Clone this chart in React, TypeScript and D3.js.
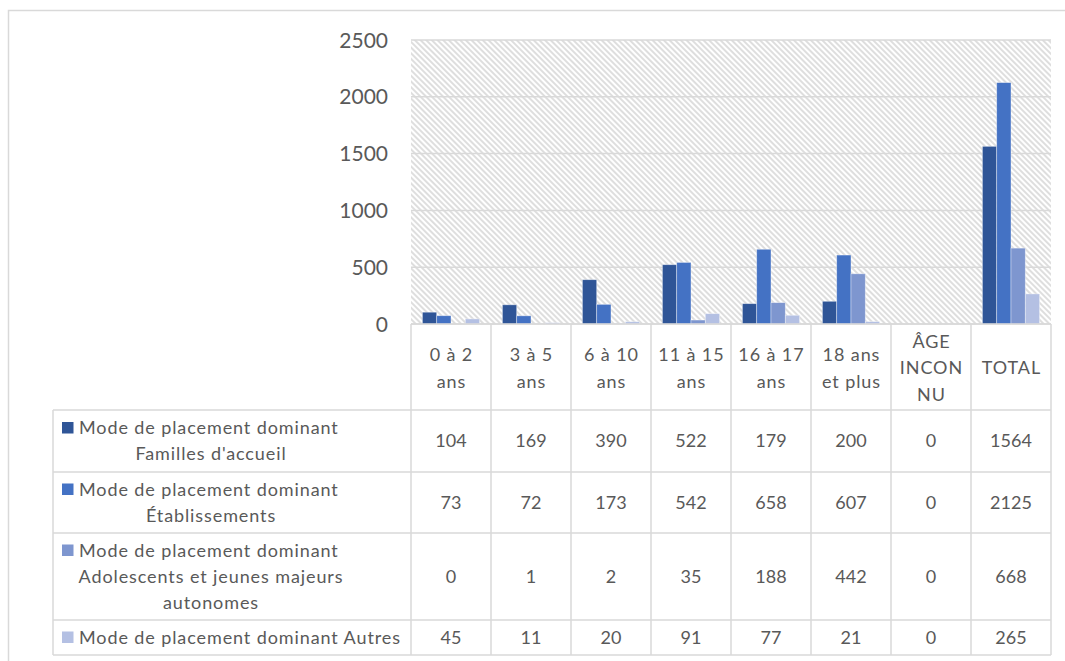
import React from "react";
import * as d3 from "d3";

const categories = ["0 à 2 ans", "3 à 5 ans", "6 à 10 ans", "11 à 15 ans", "16 à 17 ans", "18 ans et plus", "ÂGE INCONNU", "TOTAL"];
const categoryLines = [["0 à 2", "ans"], ["3 à 5", "ans"], ["6 à 10", "ans"], ["11 à 15", "ans"], ["16 à 17", "ans"], ["18 ans", "et plus"], ["ÂGE", "INCON", "NU"], ["TOTAL"]];
const seriesNames = [
  "Mode de placement dominant Familles d'accueil",
  "Mode de placement dominant Établissements",
  "Mode de placement dominant Adolescents et jeunes majeurs autonomes",
  "Mode de placement dominant Autres",
];
const seriesLines = [
  ["Mode de placement dominant", "Familles d'accueil"],
  ["Mode de placement dominant", "Établissements"],
  ["Mode de placement dominant", "Adolescents et jeunes majeurs", "autonomes"],
  ["Mode de placement dominant Autres"],
];
const famillesAccueil = [104, 169, 390, 522, 179, 200, 0, 1564];
const etablissements = [73, 72, 173, 542, 658, 607, 0, 2125];
const adolescents = [0, 1, 2, 35, 188, 442, 0, 668];
const autres = [45, 11, 20, 91, 77, 21, 0, 265];
const seriesValues = [famillesAccueil, etablissements, adolescents, autres];
const colors = ["#2F5597", "#4472C4", "#7E96CF", "#B4C0E3"];
const yTicks = [0, 500, 1000, 1500, 2000, 2500];

export default function App() {
  const W = 1065, H = 661;
  const plotL = 411, plotR = 1051, plotT = 40, plotB = 324;
  const headerB = 410;
  const rowBounds = [410, 472, 533, 620, 655];
  const legendL = 53;
  const font = "Lato, 'Noto Sans', sans-serif";
  const textColor = "#595959";
  const grid = "#d9d9d9";
  const ls = 0.9;

  const x = d3.scaleBand<string>().domain(categories).range([plotL, plotR]).paddingInner(0).paddingOuter(0);
  const bw = x.bandwidth();
  const groupW = bw * (57.2 / 80);
  const xs = d3.scaleBand<number>().domain(d3.range(seriesValues.length)).range([0, groupW]);
  const y = d3.scaleLinear().domain([0, 2500]).range([plotB, plotT]);

  return (
    <svg width={W} height={H} style={{ position: "absolute", left: 0, top: 0, background: "#fff" }} fontFamily={font}>
      <defs>
        <pattern id="hatch" width="4" height="4" patternUnits="userSpaceOnUse" patternTransform="rotate(-45)">
          <rect width="4" height="4" fill="#fff" />
          <line x1="1" y1="0" x2="1" y2="4" stroke="#d6d6d6" strokeWidth="1.6" />
        </pattern>
      </defs>
      <rect x={8.5} y={10.5} width={1080} height={680} fill="none" stroke={grid} strokeWidth={1.5} />
      <rect x={plotL} y={plotT} width={plotR - plotL} height={plotB - plotT} fill="url(#hatch)" />
      {yTicks.map((t) => (
        <line key={t} x1={plotL} x2={plotR} y1={y(t)} y2={y(t)} stroke={grid} strokeWidth={1.5} />
      ))}
      {yTicks.map((t) => (
        <text key={"l" + t} x={388} y={y(t)} dy="0.36em" textAnchor="end" fontSize={21} fill={textColor}>
          {t}
        </text>
      ))}
      {categories.map((c, ci) => (
        <g key={c} transform={`translate(${(x(c) as number) + (bw - groupW) / 2},0)`}>
          {seriesValues.map((vals, si) => {
            const v = vals[ci];
            if (v <= 0) return null;
            const top = y(v);
            return (
              <rect key={si} x={xs(si) as number} y={top} width={xs.bandwidth()} height={plotB - top}
                fill={colors[si]} stroke="#ffffff" strokeOpacity={0.5} strokeWidth={0.75} />
            );
          })}
        </g>
      ))}
      <line x1={plotL} x2={plotR} y1={plotB} y2={plotB} stroke={grid} strokeWidth={1.5} />
      {categories.map((c, ci) => (
        <line key={"v" + ci} x1={x(c) as number} x2={x(c) as number} y1={plotB} y2={rowBounds[rowBounds.length - 1]} stroke={grid} strokeWidth={1.5} />
      ))}
      <line x1={plotR} x2={plotR} y1={plotB} y2={rowBounds[rowBounds.length - 1]} stroke={grid} strokeWidth={1.5} />
      <line x1={legendL} x2={legendL} y1={rowBounds[0]} y2={rowBounds[rowBounds.length - 1]} stroke={grid} strokeWidth={1.5} />
      {rowBounds.map((rb, i) => (
        <line key={"h" + i} x1={legendL} x2={plotR} y1={rb} y2={rb} stroke={grid} strokeWidth={1.5} />
      ))}
      {categories.map((c, ci) => {
        const lines = categoryLines[ci];
        const lh = 26.8;
        const cy = (plotB + headerB) / 2 + 1;
        const y0 = cy - ((lines.length - 1) * lh) / 2;
        const cx = (x(c) as number) + bw / 2 + ls / 2;
        return (
          <text key={"hd" + ci} x={cx} textAnchor="middle" fontSize={18} letterSpacing={ls} fill={textColor}>
            {lines.map((ln, li) => (
              <tspan key={li} x={cx} y={y0 + li * lh} dy="0.36em">{ln}</tspan>
            ))}
          </text>
        );
      })}
      {seriesValues.map((vals, si) => {
        const rt = rowBounds[si], rbm = rowBounds[si + 1];
        const cy = (rt + rbm) / 2;
        const lines = seriesLines[si];
        const lh = 26;
        const y0 = cy - ((lines.length - 1) * lh) / 2;
        return (
          <g key={"r" + si}>
            <title>{seriesNames[si]}</title>
            <rect x={62} y={y0 - 6} width={11.5} height={11.5} fill={colors[si]} />
            {lines.map((ln, li) => (
              <text key={li} x={li === 0 ? 79 : 211} y={y0 + li * lh} dy="0.36em"
                textAnchor={li === 0 ? "start" : "middle"} fontSize={18} letterSpacing={ls} fill={textColor}>
                {ln}
              </text>
            ))}
            {vals.map((v, ci) => (
              <text key={"c" + ci} x={(x(categories[ci]) as number) + bw / 2} y={cy} dy="0.36em"
                textAnchor="middle" fontSize={18} fill={textColor}>
                {v}
              </text>
            ))}
          </g>
        );
      })}
    </svg>
  );
}
